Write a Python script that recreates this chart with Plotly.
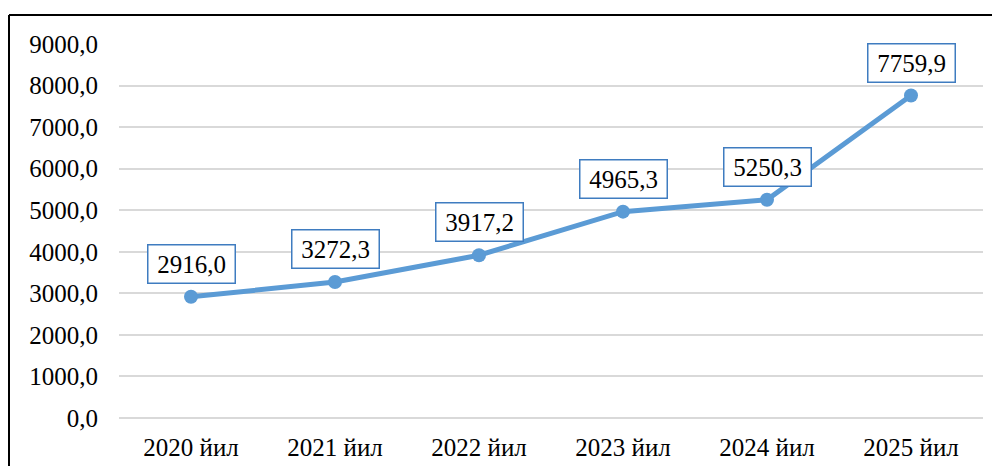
import plotly.graph_objects as go

categories = ["2020 йил", "2021 йил", "2022 йил", "2023 йил", "2024 йил", "2025 йил"]
values = [2916.0, 3272.3, 3917.2, 4965.3, 5250.3, 7759.9]
label_texts = ["2916,0", "3272,3", "3917,2", "4965,3", "5250,3", "7759,9"]
y_ticks = [0, 1000, 2000, 3000, 4000, 5000, 6000, 7000, 8000, 9000]
y_tick_labels = ["0,0", "1000,0", "2000,0", "3000,0", "4000,0", "5000,0",
                 "6000,0", "7000,0", "8000,0", "9000,0"]

FONT = "Liberation Serif"
BLUE = "#5B9BD5"

fig = go.Figure()
fig.add_trace(go.Scatter(
    x=categories, y=values, mode="lines+markers",
    line=dict(color=BLUE, width=5),
    marker=dict(color=BLUE, size=14),
    hoverinfo="skip", cliponaxis=False,
))

for c, v, t in zip(categories, values, label_texts):
    fig.add_annotation(
        x=c, y=v, text=t, showarrow=False, yshift=33,
        font=dict(family=FONT, size=25, color="black"),
        bgcolor="white", bordercolor="#3F7CC0", borderwidth=1.5,
        borderpad=1, width=84, height=35,
    )

# page body has an 8px margin, so the figure is drawn 8px in from the window edge
OFF = 8
W, H = 1000 - 2 * OFF, 474 - 2 * OFF
L, R, T, B = 119 - OFF, W - (983 - OFF), 44 - OFF, H - (418 - OFF)
pw, ph = W - L - R, H - T - B

def px_x(p):
    return (p - OFF - L) / pw

def px_y(p):
    return (H - B - (p - OFF)) / ph

# frame (left and top edges visible)
fig.add_shape(type="line", xref="paper", yref="paper",
              x0=px_x(9), x1=px_x(9), y0=px_y(15), y1=px_y(480),
              line=dict(color="black", width=2))
fig.add_shape(type="line", xref="paper", yref="paper",
              x0=px_x(9), x1=px_x(995), y0=px_y(15), y1=px_y(15),
              line=dict(color="black", width=2))

fig.update_layout(
    width=W, height=H,
    margin=dict(l=L, r=R, t=T, b=B, autoexpand=False),
    paper_bgcolor="white", plot_bgcolor="white",
    showlegend=False,
    font=dict(family=FONT, size=25, color="black"),
    xaxis=dict(
        type="category", range=[-0.5, 5.5], automargin=False,
        showgrid=False, showline=False, zeroline=False,
        ticks="", tickfont=dict(family=FONT, size=25, color="black"),
        ticklabelstandoff=12, fixedrange=True,
    ),
    yaxis=dict(
        range=[0, 9000], tickvals=y_ticks, ticktext=y_tick_labels,
        automargin=False,
        showgrid=True, gridcolor="#D9D9D9", gridwidth=2,
        zeroline=True, zerolinecolor="#D9D9D9", zerolinewidth=2,
        showline=False, ticks="",
        tickfont=dict(family=FONT, size=25, color="black"),
        ticklabelstandoff=20, fixedrange=True,
    ),
)

fig.write_html("out.html")
